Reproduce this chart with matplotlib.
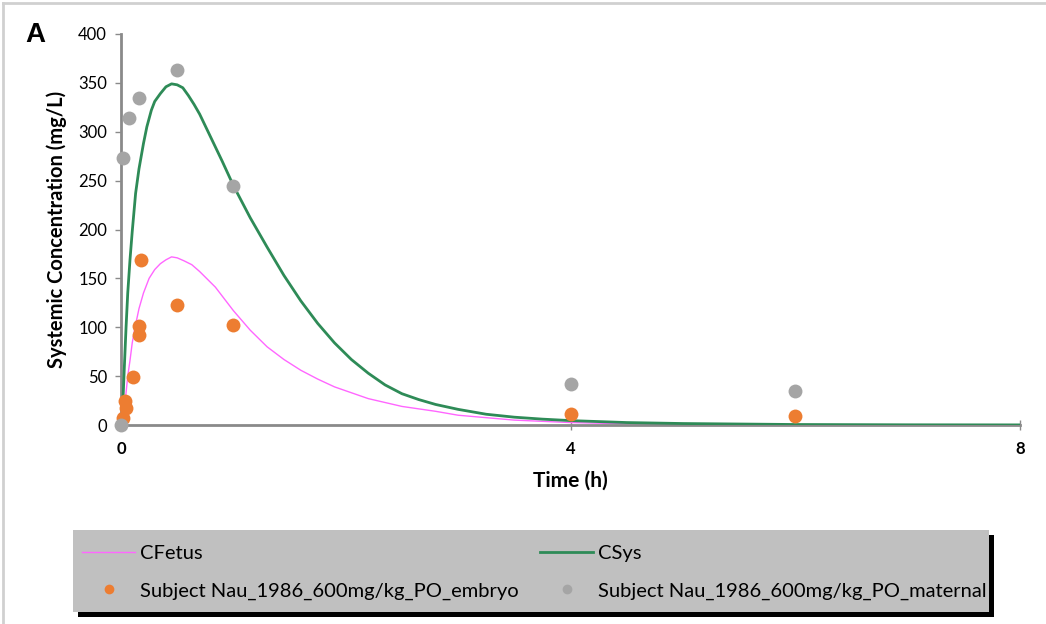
import matplotlib.pyplot as plt
from matplotlib.lines import Line2D
from matplotlib.patches import Rectangle

plt.rcParams['font.family'] = ['Lato', 'DejaVu Sans']

# simulated concentration-time profiles (h, mg/L)
t_sys = [0, 0.01, 0.02, 0.03, 0.045, 0.06, 0.08, 0.1, 0.13, 0.16, 0.2, 0.23, 0.27, 0.3,
         0.35, 0.4, 0.45, 0.5, 0.55, 0.6, 0.65, 0.7, 0.8, 0.9,
         1.0, 1.15, 1.3, 1.45, 1.6, 1.75, 1.9, 2.05, 2.2, 2.35, 2.5, 2.65, 2.8, 3.0,
         3.25, 3.5, 3.75, 4.0, 4.5, 5.0, 6.0, 7.0, 8.0]
c_sys = [0, 15, 32, 60, 100, 135, 169, 198, 237, 262, 288, 305, 322, 331,
         339, 346, 349, 348, 345, 337, 328, 318, 294, 270,
         245, 212, 182, 153, 127, 104, 84, 67, 53, 41, 32, 26, 21, 16,
         11, 8, 6, 4.5, 2.5, 1.5, 0.5, 0.2, 0.1]

t_fetus = [0, 0.02, 0.045, 0.06, 0.08, 0.1, 0.125, 0.16, 0.2, 0.25, 0.3, 0.35, 0.4,
           0.45, 0.5, 0.56, 0.63, 0.7, 0.77, 0.84, 0.92,
           1.0, 1.15, 1.3, 1.45, 1.6, 1.75, 1.9, 2.05, 2.2, 2.5, 2.8, 3.0, 3.5, 4.0, 4.5,
           5.0, 6.0, 8.0]
c_fetus = [0, 12, 33, 50, 66, 84, 100, 119, 135, 150, 159, 165, 169,
           172, 171, 168, 164, 157, 149, 141, 129,
           117, 97, 80, 67, 56, 47, 39, 33, 27, 19, 14, 10, 5, 2.5, 1.2,
           0.6, 0.2, 0.05]

# observed data, Nau 1986, 600 mg/kg PO
t_embryo = [0.018, 0.036, 0.045, 0.104, 0.16, 0.16, 0.178, 0.5, 1.0, 4.0, 6.0]
c_embryo = [7, 25, 17, 49, 101, 92, 169, 123, 102, 11, 9]

t_maternal = [0, 0.017, 0.075, 0.163, 0.5, 1.0, 4.0, 6.0]
c_maternal = [0, 273, 314, 335, 363, 244, 42, 35]

x_ticks = [0, 4, 8]
y_ticks = [0, 50, 100, 150, 200, 250, 300, 350, 400]

green = '#2e8b57'
pink = '#ff66ff'
orange = '#ed7d31'
grey = '#a5a5a5'
axis_grey = '#8a8a8a'

fig = plt.figure(figsize=(10.46, 6.24), dpi=100)
ax = fig.add_axes([121/1046, 1 - 425/624, 899/1046, 391/624])

ax.plot(t_fetus, c_fetus, color=pink, lw=1.0, zorder=2)
ax.plot(t_sys, c_sys, color=green, lw=2.0, zorder=3)
ax.plot(t_embryo, c_embryo, 'o', color=orange, ms=10, mec='none', clip_on=False, zorder=4)
ax.plot(t_maternal, c_maternal, 'o', color=grey, ms=10, mec='none', clip_on=False, zorder=5)

ax.set_xlim(0, 8)
ax.set_ylim(0, 400)
ax.set_xticks(x_ticks)
ax.set_yticks(y_ticks)
for s in ['top', 'right']:
    ax.spines[s].set_visible(False)
for s in ['left', 'bottom']:
    ax.spines[s].set_color(axis_grey)
    ax.spines[s].set_linewidth(2)
ax.tick_params(axis='y', direction='out', length=4, width=1, color=axis_grey,
               labelsize=12, pad=6)
ax.tick_params(axis='x', direction='inout', length=7, width=1, color=axis_grey,
               labelsize=12, pad=8)
for lab in ax.get_xticklabels():
    lab.set_fontweight('bold')

ax.set_xlabel('Time (h)', fontsize=15, fontweight='bold', labelpad=10)
ax.set_ylabel('Systemic Concentration (mg/L)', fontsize=14.5, fontweight='bold', labelpad=8)
fig.text(25/1046, 1 - 35/624, 'A', fontsize=20, fontweight='bold', va='center',
         family=['Liberation Sans', 'DejaVu Sans'])

# legend with grey fill and a hard black drop shadow
h_fetus = Line2D([], [], color=pink, lw=1.0)
h_sys = Line2D([], [], color=green, lw=2.0)
h_embryo = Line2D([], [], ls='none', marker='o', color=orange, ms=7, mec='none')
h_maternal = Line2D([], [], ls='none', marker='o', color=grey, ms=7, mec='none')
# column-major order so rows read CFetus | CSys, embryo | maternal
handles = [h_fetus, h_embryo, h_sys, h_maternal]
labels = ['CFetus', 'Subject Nau_1986_600mg/kg_PO_embryo',
          'CSys', 'Subject Nau_1986_600mg/kg_PO_maternal']
bx, by, bw, bh = 73/1046, 1 - 612/624, 916/1046, 82/624
fig.patches.append(Rectangle((bx + 5/1046, by - 5/624), bw, bh, transform=fig.transFigure,
                             facecolor='black', edgecolor='none', zorder=0))
fig.patches.append(Rectangle((bx, by), bw, bh, transform=fig.transFigure,
                             facecolor='#c0c0c0', edgecolor='none', zorder=1))
leg = fig.legend(handles, labels, ncol=2, loc='upper left',
                 bbox_to_anchor=(bx, by + bh - 6/624), frameon=False,
                 borderaxespad=0, borderpad=0.45, handlelength=2.64, handletextpad=0.25,
                 labelspacing=1.0, columnspacing=1.05, fontsize=14.5, numpoints=1)

# thin page border along top and left edges
fig.add_artist(Line2D([3/1046, 1], [1 - 3/624, 1 - 3/624], transform=fig.transFigure,
                      color='#d0d0d0', lw=2))
fig.add_artist(Line2D([3/1046, 3/1046], [0, 1 - 3/624], transform=fig.transFigure,
                      color='#d0d0d0', lw=2))

fig.savefig('out.png', dpi=100)
